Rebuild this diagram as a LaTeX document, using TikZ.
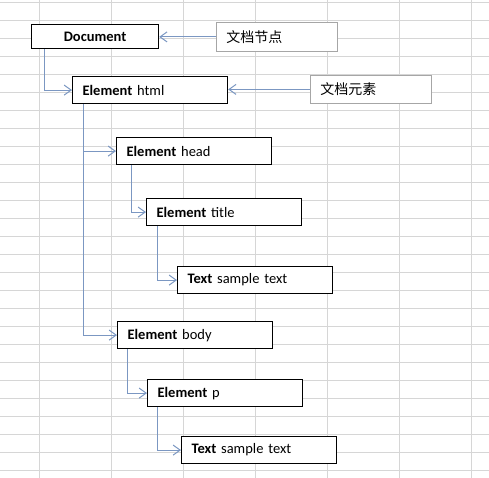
\documentclass[tikz,border=0pt]{standalone}
\usepackage{fontspec}
\setmainfont{Carlito}
\newfontfamily\cjk{Noto Sans CJK SC}
\usetikzlibrary{arrows.meta, positioning, calc}
\definecolor{gridgray}{HTML}{D6D6D6}
\definecolor{linkblue}{HTML}{7B97C2}
\definecolor{notegray}{HTML}{A6A6A6}

\begin{document}
\begin{tikzpicture}[
    x=1pt, y=-1pt,
    every node/.style={font=\fontsize{14.5pt}{17pt}\selectfont},
    domnode/.style={rectangle, draw=black, fill=white, line width=1.2pt, anchor=north west, minimum height=27pt, text width=135pt, inner xsep=10pt, align=left},
    docnode/.style={rectangle, draw=black, fill=white, line width=1.2pt, anchor=north west, minimum height=24pt, minimum width=127pt, align=center},
    note/.style={rectangle, draw=notegray, fill=white, line width=0.8pt, anchor=north west, minimum height=29pt, text width=101pt, inner xsep=10pt, align=left, font=\cjk\fontsize{14pt}{17pt}\selectfont},
    link/.style={-{Straight Barb[length=7pt,width=10pt]}, line width=1pt, linkblue}
]
\useasboundingbox (0,0) rectangle (489,478);

% Grid
\foreach \gx in {39,111,...,471}
  \draw[gridgray, line width=0.8pt] (\gx,0) -- (\gx,478);
\foreach \gy in {0,...,26}
  \draw[gridgray, line width=0.8pt] (0,2.3+18*\gy) -- (489,2.3+18*\gy);

% Nodes
\node[docnode] (doc) at (31,24) {\textbf{Document}};
\node[note] (docnote) at (216,22) {文档节点};
\node[domnode] (html) at (72,76) {\textbf{Element} html};
\node[note, minimum height=28pt] (elemnote) at (310,75) {文档元素};
\node[domnode] (head) at (116,137) {\textbf{Element} head};
\node[domnode] (title) at (146,198) {\textbf{Element} title};
\node[domnode] (titletext) at (177,266) {\textbf{Text} sample text};
\node[domnode] (body) at (117,321) {\textbf{Element} body};
\node[domnode] (para) at (147,379) {\textbf{Element} p};
\node[domnode] (paratext) at (181,436) {\textbf{Text} sample text};

% Arrows
\draw[link] (docnote.west) -- (docnote.west -| doc.east);
\draw[link] (elemnote.west) -- (elemnote.west -| html.east);
\draw[link] ([xshift=13pt]doc.south west) |- (html);
\draw[link] ([xshift=11pt]html.south west) |- (head);
\draw[link] ([xshift=11pt]html.south west) |- (body);
\draw[link] ([xshift=15pt]head.south west) |- (title);
\draw[link] ([xshift=11pt]title.south west) |- (titletext);
\draw[link] ([xshift=10pt]body.south west) |- (para);
\draw[link] ([xshift=10pt]para.south west) |- (paratext);

\end{tikzpicture}
\end{document}
